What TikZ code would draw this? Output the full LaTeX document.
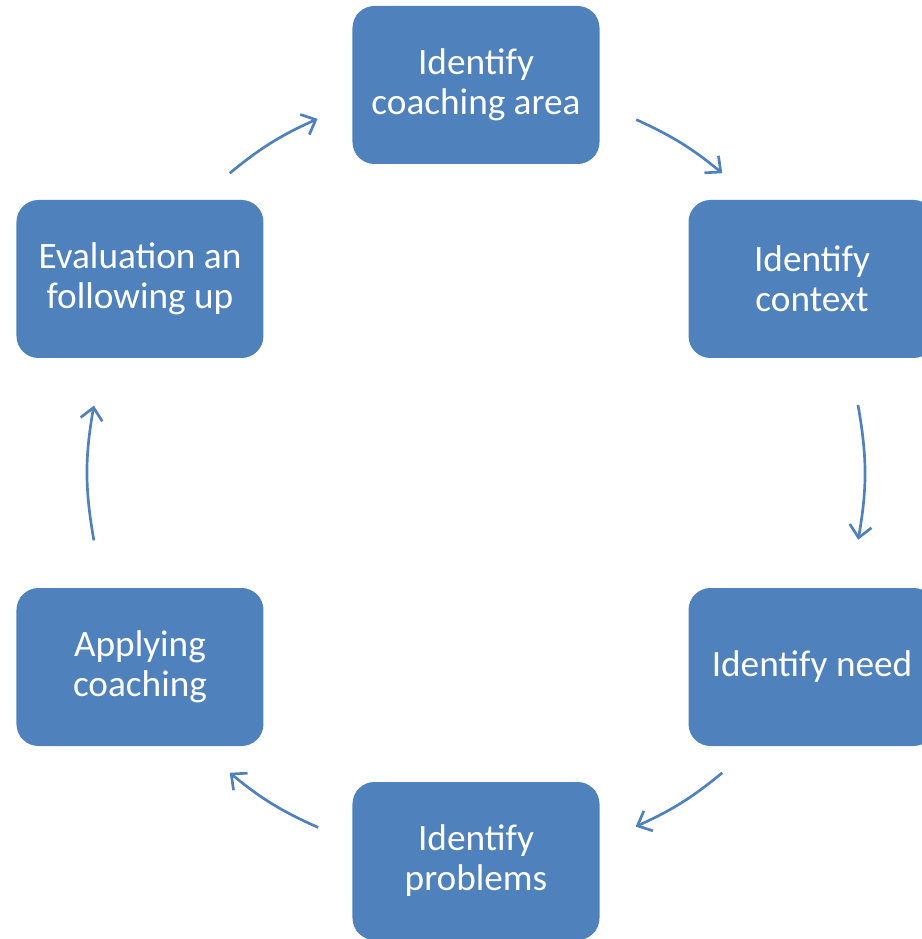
\documentclass[tikz,border=0pt]{standalone}
\usepackage{fontspec}
\setmainfont{Carlito}
\usetikzlibrary{arrows.meta,calc}
\definecolor{stageblue}{HTML}{4F81BD}

\begin{document}
\begin{tikzpicture}[
    stage/.style={rounded corners=0.55cm, fill=stageblue, text=white, minimum width=6.175cm, minimum height=3.95cm, align=center, font=\fontsize{26.5}{28.5}\selectfont},
    cyc/.style={draw=stageblue, line width=1.9pt, -{Straight Barb[length=3mm,width=5.5mm]}}
]
                
                    \useasboundingbox (-11.9,-11.65) rectangle (11.125,11.825);
                    
                    \node[stage] (top) at (90:9.7) {Identify\\coaching area};
                    \node[stage] (rt) at (30:9.7) {Identify\\context}; \node[stage] (rb) at (-30:9.7) {Identify need}; \node[stage] (bot) at (270:9.7) {Identify\\problems};
                    \node[stage] (lb) at (210:9.7) {Applying\\coaching}; \node[stage] (lt) at (150:9.7) {Evaluation an\\following up};
                    
                    % arc ends on the circle through the stages
                    \coordinate (lt-out) at (129.4:9.7); \coordinate (top-in) at (114.1:9.7);
                    \coordinate (top-out) at (65.6:9.7); \coordinate (rt-in) at (50.6:9.7);
                    \coordinate (rt-out) at (10.1:9.7); \coordinate (rb-in) at (-9.9:9.7);
                    \coordinate (rb-out) at (-50.6:9.7); \coordinate (bot-in) at (-65.7:9.7);
                    \coordinate (bot-out) at (-114:9.7); \coordinate (lb-in) at (-129.4:9.7);
                    \coordinate (lb-out) at (190:9.7); \coordinate (lt-in) at (170:9.7);
                    
                    \draw[cyc] (lt-out) to[bend left=7.6] (top-in);
                    \draw[cyc] (top-out) to[bend left=7.5] (rt-in);
                    \draw[cyc] (rt-out) to[bend left=10] (rb-in);
                    \draw[cyc] (rb-out) to[bend left=7.5] (bot-in);
                    \draw[cyc] (bot-out) to[bend left=7.7] (lb-in);
                    \draw[cyc] (lb-out) to[bend left=10] (lt-in);
                    
                \end{tikzpicture}
\end{document}
